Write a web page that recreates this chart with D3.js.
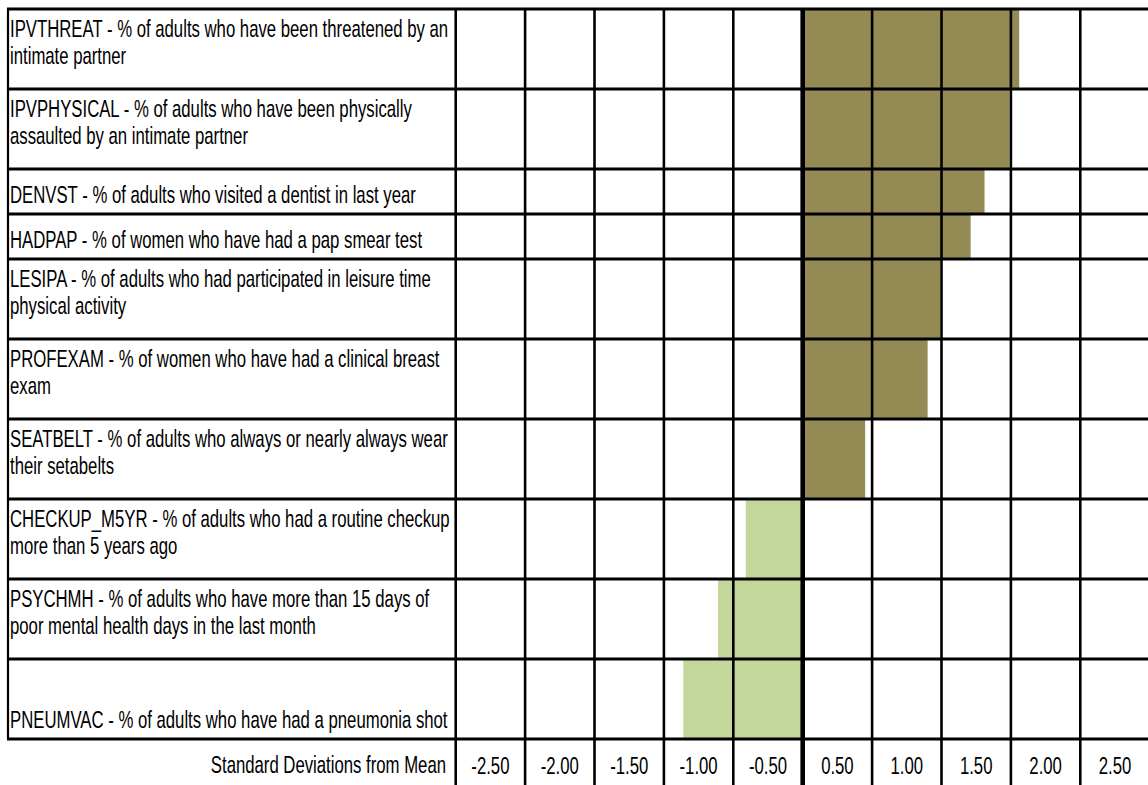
<!DOCTYPE html>
<html>
<head>
<meta charset="utf-8">
<script src="https://cdn.jsdelivr.net/npm/d3@7"></script>
<style>
  html, body { margin: 0; padding: 0; background: #fff; }
  svg { display: block; }
  text { font-family: "Liberation Sans Narrow", "Liberation Sans", Arial, sans-serif; fill: #000; }
</style>
</head>
<body>
<svg id="chart" width="1148" height="785"></svg>
<script>
// Indicator codes, top to bottom
const codes = ["IPVTHREAT", "IPVPHYSICAL", "DENVST", "HADPAP", "LESIPA",
               "PROFEXAM", "SEATBELT", "CHECKUP_M5YR", "PSYCHMH", "PNEUMVAC"];

// Label text, one entry per wrapped line
const labelLines = [
  ["IPVTHREAT - % of adults who have been threatened by an", "intimate partner"],
  ["IPVPHYSICAL - % of adults who have been physically", "assaulted by an intimate partner"],
  ["DENVST - % of adults who visited a dentist in last year"],
  ["HADPAP - % of women who have had a pap smear test"],
  ["LESIPA - % of adults who had participated in leisure time", "physical activity"],
  ["PROFEXAM - % of women who have had a clinical breast", "exam"],
  ["SEATBELT - % of adults who always or nearly always wear", "their setabelts"],
  ["CHECKUP_M5YR - % of adults who had a routine checkup", "more than 5 years ago"],
  ["PSYCHMH - % of adults who have more than 15 days of", "poor mental health days in the last month"],
  ["PNEUMVAC - % of adults who have had a pneumonia shot"]
];

// Standard deviations from the mean
const sdValues = [1.56, 1.49, 1.31, 1.21, 0.99, 0.90, 0.45, -0.41, -0.61, -0.86];

// Column labels along the bottom
const tickLabels = ["-2.50", "-2.00", "-1.50", "-1.00", "-0.50", "0.50", "1.00", "1.50", "2.00", "2.50"];
const tickValues = [-2.5, -2.0, -1.5, -1.0, -0.5, 0.5, 1.0, 1.5, 2.0, 2.5];
const axisTitle = "Standard Deviations from Mean";

// ---- layout ----
const W = 1148, H = 785;
const tableLeft = 8, tableTop = 9;
const plotLeft = 455.7, plotRight = 1149.7;
const rowHeights = [80, 80, 45, 45, 80, 80, 80, 80, 80, 80];
const lineGap = 27.5;
const POS = "#948A54", NEG = "#C4D79B";

const svg = d3.select("#chart");
svg.append("rect").attr("width", W).attr("height", H).attr("fill", "#fff");

const x = d3.scaleLinear().domain([-2.5, 2.5]).range([plotLeft, plotRight]);

const rowTops = [tableTop];
rowHeights.forEach((h, i) => rowTops.push(rowTops[i] + h));
const tableBottom = rowTops[rowTops.length - 1];

const rows = codes.map((c, i) => ({
  code: c, lines: labelLines[i], v: sdValues[i],
  y0: rowTops[i], y1: rowTops[i + 1]
}));

// bars fill the whole row band
svg.append("g").selectAll("rect").data(rows).join("rect")
  .attr("x", d => x(Math.min(0, d.v)))
  .attr("width", d => Math.abs(x(d.v) - x(0)))
  .attr("y", d => d.y0)
  .attr("height", d => d.y1 - d.y0)
  .attr("fill", d => d.v >= 0 ? POS : NEG);

// grid: horizontal row lines
const grid = svg.append("g").attr("stroke", "#000");
grid.selectAll("line.h").data(rowTops).join("line")
  .attr("class", "h")
  .attr("x1", tableLeft - 1).attr("x2", W)
  .attr("y1", d => d).attr("y2", d => d)
  .attr("stroke-width", 2.8);

// left border of the label column
grid.append("line")
  .attr("x1", tableLeft).attr("x2", tableLeft)
  .attr("y1", tableTop).attr("y2", tableBottom)
  .attr("stroke-width", 2.2);

// column boundaries every 0.5 SD, running down through the axis row
const colBounds = d3.range(-2.5, 2.5001, 0.5).filter(v => Math.abs(v) > 1e-9);
grid.selectAll("line.v").data(colBounds).join("line")
  .attr("class", "v")
  .attr("x1", d => x(d)).attr("x2", d => x(d))
  .attr("y1", tableTop).attr("y2", H)
  .attr("stroke-width", 2.6);

// heavy zero line
grid.append("line")
  .attr("x1", x(0)).attr("x2", x(0))
  .attr("y1", tableTop).attr("y2", H)
  .attr("stroke-width", 4.6);

// ---- text ----
const fontSize = 24.4;
const textLeft = 10;
const labels = svg.append("g").attr("font-size", fontSize);

// horizontal compression so the lettering matches the narrow spreadsheet face
const probe = labels.append("text").text(labelLines[2][0]);
const sx = 406 / probe.node().getComputedTextLength();
probe.remove();

// one text element per row label; wrapped lines become tspans
labels.selectAll("text").data(rows).join("text")
  .attr("transform", d => {
    const baseline = d.lines.length === 2 ? d.y0 + 28 : d.y1 - 11.5;
    return `translate(${textLeft},${baseline}) scale(${sx},1)`;
  })
  .each(function (d) {
    d3.select(this).selectAll("tspan").data(d.lines).join("tspan")
      .attr("x", 0)
      .attr("dy", (l, j) => j === 0 ? 0 : lineGap)
      .text(l => l);
  });

// axis row: title and column labels
const axisBaseline = 773;
svg.append("text")
  .attr("font-size", fontSize)
  .attr("text-anchor", "end")
  .attr("transform", `translate(446,${axisBaseline}) scale(${sx},1)`)
  .text(axisTitle);

svg.append("g").attr("font-size", fontSize).selectAll("text")
  .data(tickValues).join("text")
  .attr("text-anchor", "middle")
  .attr("transform", d => `translate(${x(d - Math.sign(d) * 0.25)},${axisBaseline + 1}) scale(${sx},1)`)
  .text((d, i) => tickLabels[i]);
</script>
</body>
</html>
